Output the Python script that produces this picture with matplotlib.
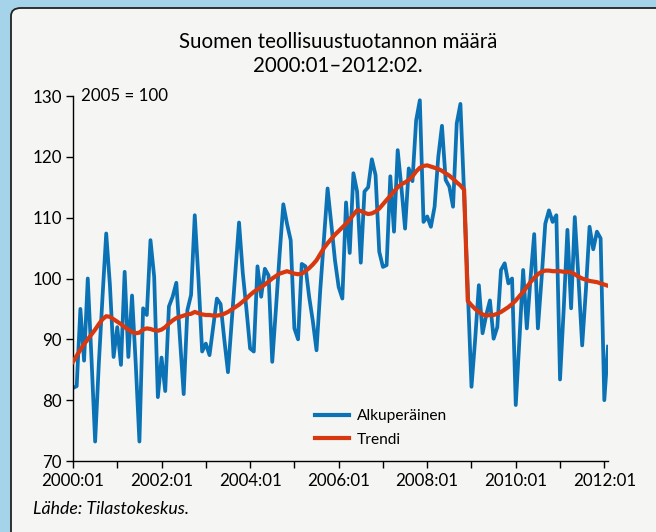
import matplotlib
matplotlib.use("Agg")
import matplotlib.pyplot as plt
from matplotlib.patches import FancyBboxPatch
import numpy as np

# ---- data (monthly index, 2005 = 100), 2000:01 .. 2012:02 ----
alkuperainen = [
    82.0, 82.3, 95.0, 86.5, 100.0, 87.0, 73.2, 86.0, 97.0, 107.4, 99.0, 87.1,
    92.0, 85.8, 101.1, 87.1, 97.2, 86.0, 73.2, 95.1, 94.0, 106.3, 100.3, 80.5,
    87.0, 81.5, 95.4, 97.0, 99.3, 90.0, 81.0, 94.8, 97.3, 110.4, 100.0, 88.0,
    89.3, 87.4, 92.0, 96.7, 95.8, 90.0, 84.6, 92.8, 101.0, 109.2, 101.0, 95.0,
    88.5, 88.0, 102.0, 97.0, 101.6, 100.5, 86.3, 95.0, 104.0, 112.2, 109.0, 106.3,
    91.8, 90.0, 102.4, 102.0, 97.0, 93.0, 88.2, 98.0, 106.5, 114.8, 109.0, 103.0,
    98.6, 96.7, 112.5, 104.2, 117.3, 114.3, 102.6, 114.3, 115.0, 119.6, 117.0, 104.4,
    101.9, 102.2, 116.8, 107.7, 121.1, 115.0, 108.2, 118.1, 116.0, 126.0, 129.3, 109.3,
    110.2, 108.5, 111.8, 120.0, 125.1, 116.2, 115.1, 111.8, 125.5, 128.7, 114.0, 98.0,
    82.2, 90.0, 98.9, 91.0, 94.0, 96.4, 90.1, 92.0, 101.4, 102.5, 99.2, 100.0,
    79.2, 90.0, 101.4, 91.8, 100.0, 107.3, 91.8, 100.0, 109.0, 111.2, 109.3, 110.4,
    83.4, 95.0, 108.0, 95.1, 110.1, 100.0, 89.0, 98.0, 108.5, 104.8, 107.7, 106.6,
    80.0, 88.8,
]

trendi = [
    86.3, 87.3, 88.3, 89.2, 90.0, 90.8, 91.6, 92.5, 93.3, 93.8, 93.7, 93.3,
    92.9, 92.5, 92.0, 91.6, 91.2, 91.0, 91.1, 91.6, 91.8, 91.7, 91.5, 91.4,
    91.6, 92.0, 92.6, 93.1, 93.5, 93.7, 93.9, 94.1, 94.2, 94.5, 94.3, 94.1,
    94.0, 94.0, 93.9, 93.9, 94.0, 94.2, 94.5, 94.9, 95.3, 95.7, 96.2, 96.7,
    97.3, 97.8, 98.2, 98.6, 99.0, 99.5, 100.0, 100.4, 100.8, 101.0, 101.2, 101.0,
    100.8, 100.7, 100.8, 101.2, 101.7, 102.3, 103.0, 104.0, 105.0, 105.8, 106.5, 107.2,
    107.8, 108.4, 109.0, 109.7, 110.5, 111.2, 111.1, 110.8, 110.6, 110.7, 111.0, 111.5,
    112.2, 112.9, 113.6, 114.3, 115.0, 115.5, 115.8, 116.2, 116.8, 117.6, 118.2, 118.5,
    118.6, 118.4, 118.2, 118.0, 117.7, 117.3, 116.9, 116.4, 115.8, 115.3, 114.6, 96.3,
    95.6, 95.0, 94.5, 94.1, 93.9, 94.0, 94.0, 94.2, 94.5, 94.9, 95.3, 95.8,
    96.4, 97.1, 97.8, 98.6, 99.4, 100.1, 100.7, 101.1, 101.3, 101.3, 101.2, 101.2,
    101.2, 101.1, 101.1, 101.0, 100.7, 100.3, 100.0, 99.8, 99.6, 99.5, 99.4, 99.2,
    99.0, 98.8,
]

tick_labels = ["2000:01", "2002:01", "2004:01", "2006:01", "2008:01", "2010:01", "2012:01"]
y_ticks = [70, 80, 90, 100, 110, 120, 130]

title = "Suomen teollisuustuotannon määrä\n2000:01–2012:02."
unit_note = "2005 = 100"
source = "Lähde: Tilastokeskus."
series_names = ["Alkuperäinen", "Trendi"]

BLUE = "#0b72b5"
RED = "#d8380f"

plt.rcParams["font.family"] = ["Lato", "DejaVu Sans"]

W, H = 656, 532
fig = plt.figure(figsize=(W / 100, H / 100), dpi=100)
fig.patch.set_facecolor("#a5d3ea")

# panel
panel = FancyBboxPatch((11 / W, 0 - 20 / H), (W + 40) / W, (H - 8 + 20) / H,
                       boxstyle="round,pad=0,rounding_size=0.015",
                       transform=fig.transFigure, facecolor="#f5f5f3",
                       edgecolor="#222222", linewidth=1.3, zorder=-10)
fig.patches.append(panel)

x = np.arange(len(alkuperainen))

ax = fig.add_axes([73 / W, (H - 461) / H, 535 / W, 365 / H], zorder=5)
ax.set_facecolor("none")
ax.plot(x, alkuperainen, color=BLUE, lw=2.7, label=series_names[0], zorder=2)
ax.plot(x, trendi, color=RED, lw=3.0, label=series_names[1], zorder=3)

ax.set_xlim(0, 145)
ax.set_ylim(70, 130)
for s in ["top", "right"]:
    ax.spines[s].set_visible(False)
for s in ["left", "bottom"]:
    ax.spines[s].set_color("black")
    ax.spines[s].set_linewidth(1.0)

ax.set_yticks(y_ticks)
ax.set_yticklabels([str(v) for v in y_ticks], fontsize=12.2)
ax.set_xticks(np.arange(0, 145, 24))
ax.set_xticklabels(tick_labels, fontsize=12.2)
ax.set_xticks(np.arange(12, 145, 24), minor=True)
ax.tick_params(axis="both", which="both", direction="out", length=5, width=1.0, color="black", pad=3)
ax.tick_params(axis="x", which="major", pad=4)

ax.text(2.2, 130, unit_note, fontsize=12.2, va="center", ha="left")

fig.text(338 / W, 1 - 54 / H, title, ha="center", va="center", fontsize=14.8, linespacing=1.3)
fig.text(33 / W, 1 - 509 / H, source, ha="left", va="center", fontsize=12.8, style="italic")

leg = fig.legend(loc="upper left", bbox_to_anchor=(309 / W, 1 - 403 / H), frameon=False,
                 fontsize=11.2, handlelength=2.2, handletextpad=0.5, labelspacing=0.62,
                 borderaxespad=0)
for line in leg.get_lines():
    line.set_linewidth(3.0)

fig.savefig("out.png", dpi=100, facecolor=fig.get_facecolor())
